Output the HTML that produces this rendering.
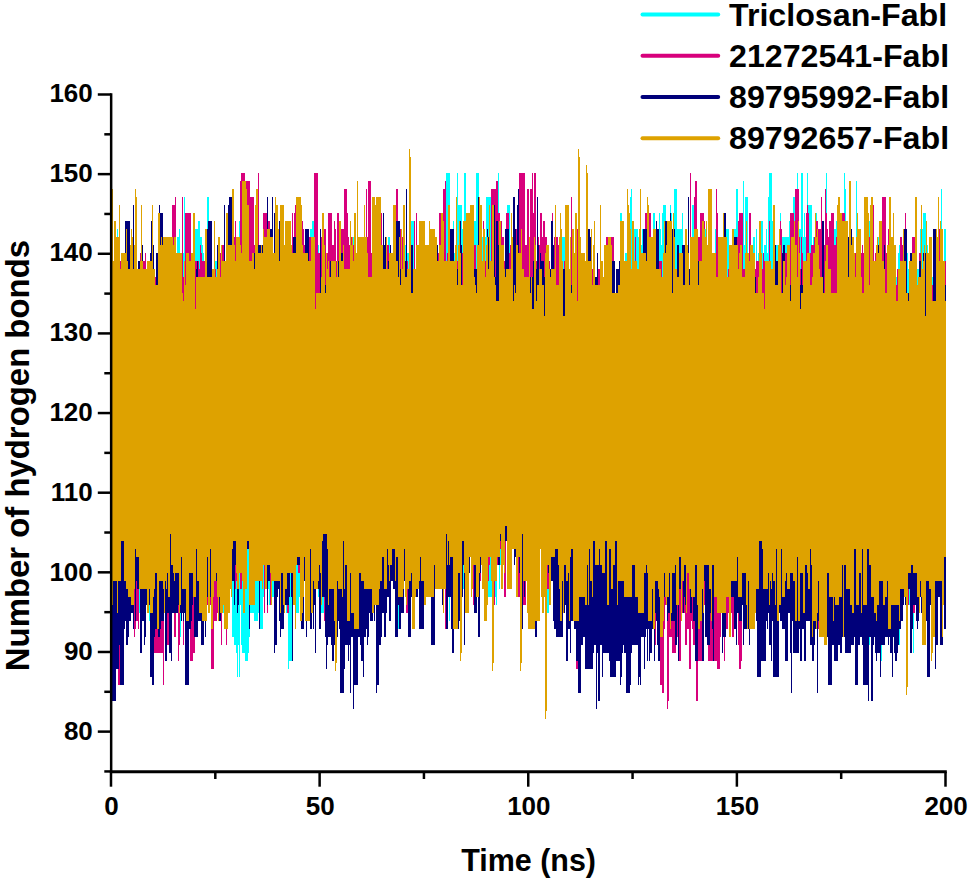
<!DOCTYPE html>
<html><head><meta charset="utf-8"><style>
html,body{margin:0;padding:0;background:#fff;}
body{width:968px;height:882px;overflow:hidden;position:relative;}
svg{position:absolute;left:0;top:0;display:block;}
text{font-family:"Liberation Sans",sans-serif;font-weight:bold;fill:#000;}
</style></head><body>
<svg width="968" height="882" viewBox="0 0 968 882">
<g fill="none" stroke-width="1" shape-rendering="crispEdges">
<path stroke="#00ffff" d="M111.5 269V581M112.5 269V581M113.5 301V581M114.5 301V581M115.5 301V581M116.5 301V581M117.5 229V573M118.5 293V581M119.5 293V581M120.5 293V581M121.5 261V581M122.5 301V581M123.5 253V581M124.5 253V573M125.5 293V557M126.5 293V557M127.5 293V581M128.5 293V581M129.5 293V573M130.5 293V573M131.5 293V573M132.5 293V534M133.5 309V534M134.5 309V589M135.5 293V581M136.5 277V549M137.5 277V573M138.5 293V526M139.5 309V613M140.5 293V605M141.5 293V597M142.5 309V557M143.5 316V557M144.5 316V597M145.5 261V565M146.5 301V565M147.5 301V573M148.5 301V573M149.5 301V621M150.5 301V549M151.5 301V581M152.5 301V637M153.5 301V637M154.5 332V621M155.5 332V621M156.5 301V621M157.5 301V597M158.5 237V597M159.5 229V565M160.5 229V565M161.5 324V605M162.5 316V573M163.5 269V573M164.5 269V573M165.5 261V573M166.5 301V573M167.5 301V573M168.5 293V573M169.5 293V573M170.5 301V581M171.5 277V557M172.5 229V557M173.5 285V597M174.5 293V597M175.5 269V597M176.5 269V581M177.5 237V613M178.5 237V613M179.5 229V613M180.5 261V637M181.5 261V597M182.5 261V573M183.5 253V573M184.5 197V541M185.5 253V565M186.5 245V565M187.5 253V573M188.5 253V565M189.5 245V565M190.5 269V573M191.5 269V565M192.5 261V557M193.5 229V557M194.5 229V557M195.5 229V557M196.5 229V541M197.5 229V589M198.5 221V589M199.5 221V589M200.5 237V589M201.5 237V589M202.5 245V589M203.5 253V581M204.5 293V557M205.5 285V589M206.5 285V589M207.5 197V534M208.5 197V526M209.5 285V526M210.5 253V526M211.5 253V526M212.5 285V557M213.5 285V589M214.5 261V589M215.5 261V589M216.5 261V518M217.5 261V526M218.5 285V549M219.5 285V549M220.5 285V557M221.5 285V549M222.5 301V557M223.5 301V613M224.5 301V581M225.5 301V589M226.5 277V565M227.5 277V581M228.5 269V573M229.5 293V589M230.5 293V581M231.5 309V597M232.5 309V637M233.5 269V637M234.5 245V645M235.5 253V645M236.5 253V653M237.5 253V677M238.5 309V645M239.5 221V677M240.5 285V605M241.5 285V645M242.5 301V653M243.5 301V653M244.5 301V653M245.5 301V661M246.5 293V661M247.5 293V661M248.5 293V653M249.5 293V637M250.5 293V613M251.5 301V613M252.5 301V613M253.5 301V613M254.5 301V621M255.5 301V621M256.5 285V621M257.5 277V621M258.5 277V613M259.5 277V613M260.5 277V629M261.5 277V629M262.5 285V629M263.5 285V597M264.5 285V597M265.5 277V589M266.5 277V589M267.5 285V589M268.5 301V589M269.5 301V605M270.5 269V605M271.5 269V605M272.5 269V597M273.5 309V597M274.5 301V597M275.5 301V597M276.5 253V621M277.5 253V589M278.5 253V589M279.5 253V589M280.5 253V589M281.5 277V589M282.5 277V573M283.5 269V589M284.5 285V589M285.5 309V581M286.5 309V613M287.5 309V613M288.5 301V669M289.5 285V661M290.5 285V661M291.5 285V661M292.5 301V661M293.5 301V581M294.5 293V581M295.5 285V613M296.5 261V613M297.5 301V613M298.5 301V613M299.5 253V597M300.5 253V597M301.5 293V565M302.5 293V565M303.5 261V565M304.5 253V581M305.5 253V589M306.5 229V589M307.5 229V589M308.5 253V589M309.5 253V589M310.5 229V573M311.5 229V573M312.5 221V581M313.5 221V581M314.5 221V581M315.5 301V573M316.5 293V573M317.5 245V573M318.5 245V597M319.5 301V621M320.5 269V621M321.5 269V613M322.5 261V613M323.5 261V613M324.5 261V581M325.5 261V581M326.5 285V597M327.5 277V597M328.5 277V605M329.5 237V605M330.5 245V581M331.5 237V581M332.5 269V573M333.5 269V573M334.5 261V573M335.5 269V565M336.5 269V565M337.5 269V629M338.5 269V573M339.5 269V565M340.5 277V565M341.5 245V557M342.5 285V549M343.5 261V653M344.5 269V653M345.5 269V549M346.5 269V557M347.5 269V549M348.5 293V597M349.5 245V549M350.5 245V549M351.5 277V549M352.5 237V541M353.5 237V541M354.5 309V518M355.5 309V518M356.5 309V518M357.5 301V510M358.5 237V510M359.5 316V510M360.5 316V510M361.5 316V510M362.5 253V510M363.5 293V526M364.5 293V605M365.5 301V518M366.5 301V589M367.5 277V589M368.5 324V589M369.5 316V518M370.5 316V518M371.5 316V518M372.5 324V518M373.5 293V518M374.5 293V518M375.5 293V518M376.5 293V534M377.5 229V534M378.5 229V541M379.5 301V549M380.5 301V541M381.5 277V518M382.5 277V526M383.5 277V526M384.5 277V526M385.5 285V557M386.5 285V534M387.5 293V557M388.5 237V557M389.5 237V621M390.5 285V526M391.5 285V526M392.5 285V526M393.5 285V526M394.5 301V526M395.5 309V526M396.5 309V629M397.5 245V629M398.5 245V629M399.5 245V526M400.5 245V526M401.5 245V526M402.5 245V541M403.5 245V541M404.5 245V541M405.5 245V541M406.5 253V541M407.5 253V541M408.5 253V541M409.5 269V573M410.5 285V573M411.5 221V534M412.5 221V549M413.5 221V549M414.5 277V541M415.5 293V541M416.5 261V541M417.5 261V541M418.5 253V565M419.5 285V565M420.5 277V565M421.5 277V565M422.5 285V549M423.5 285V549M424.5 285V581M425.5 277V573M426.5 301V597M427.5 301V534M428.5 301V534M429.5 285V526M430.5 285V526M431.5 285V534M432.5 285V526M433.5 285V526M434.5 269V526M435.5 269V526M436.5 269V541M437.5 261V541M438.5 261V573M439.5 261V565M440.5 261V526M441.5 245V526M442.5 245V526M443.5 269V557M444.5 269V557M445.5 261V557M446.5 173V557M447.5 173V557M448.5 173V534M449.5 173V621M450.5 237V549M451.5 237V549M452.5 237V565M453.5 221V518M454.5 253V518M455.5 245V518M456.5 245V518M457.5 173V518M458.5 205V549M459.5 205V526M460.5 205V541M461.5 205V589M462.5 229V589M463.5 245V589M464.5 173V589M465.5 173V526M466.5 237V526M467.5 237V549M468.5 229V541M469.5 229V541M470.5 213V541M471.5 213V541M472.5 221V573M473.5 221V549M474.5 221V534M475.5 221V526M476.5 173V565M477.5 173V541M478.5 173V541M479.5 213V541M480.5 205V541M481.5 245V557M482.5 237V534M483.5 237V541M484.5 237V541M485.5 237V541M486.5 197V573M487.5 197V573M488.5 197V597M489.5 197V597M490.5 197V597M491.5 197V597M492.5 245V597M493.5 253V597M494.5 237V597M495.5 245V597M496.5 245V605M497.5 245V557M498.5 173V549M499.5 245V589M500.5 229V565M501.5 253V565M502.5 253V541M503.5 253V541M504.5 261V541M505.5 261V541M506.5 261V541M507.5 205V534M508.5 205V534M509.5 205V534M510.5 253V534M511.5 253V534M512.5 245V534M513.5 253V534M514.5 269V526M515.5 269V526M516.5 253V526M517.5 261V526M518.5 261V518M519.5 261V573M520.5 221V541M521.5 229V526M522.5 277V526M523.5 285V526M524.5 285V526M525.5 285V541M526.5 285V541M527.5 261V613M528.5 261V526M529.5 261V526M530.5 245V526M531.5 245V526M532.5 245V605M533.5 309V526M534.5 309V526M535.5 261V526M536.5 316V534M537.5 324V605M538.5 277V605M539.5 309V541M540.5 324V541M541.5 324V541M542.5 324V549M543.5 309V549M544.5 309V573M545.5 324V613M546.5 324V613M547.5 324V613M548.5 316V613M549.5 316V589M550.5 324V557M551.5 261V557M552.5 253V557M553.5 253V557M554.5 316V557M555.5 309V557M556.5 301V549M557.5 301V549M558.5 293V549M559.5 285V549M560.5 301V613M561.5 245V613M562.5 237V565M563.5 237V565M564.5 237V597M565.5 269V597M566.5 285V526M567.5 285V541M568.5 277V557M569.5 269V541M570.5 269V621M571.5 277V621M572.5 269V621M573.5 253V526M574.5 253V565M575.5 221V565M576.5 221V565M577.5 269V565M578.5 245V581M579.5 253V581M580.5 253V526M581.5 277V526M582.5 285V581M583.5 285V557M584.5 285V557M585.5 285V629M586.5 261V629M587.5 269V597M588.5 293V541M589.5 293V581M590.5 301V581M591.5 293V557M592.5 293V534M593.5 261V534M594.5 261V534M595.5 293V565M596.5 301V565M597.5 301V605M598.5 309V605M599.5 293V518M600.5 293V518M601.5 293V518M602.5 293V526M603.5 293V526M604.5 293V565M605.5 293V581M606.5 316V581M607.5 316V541M608.5 261V541M609.5 309V541M610.5 309V541M611.5 309V549M612.5 293V549M613.5 301V549M614.5 301V541M615.5 301V541M616.5 293V518M617.5 293V526M618.5 293V526M619.5 293V573M620.5 213V573M621.5 213V573M622.5 269V589M623.5 285V565M624.5 277V518M625.5 253V549M626.5 253V557M627.5 245V518M628.5 245V518M629.5 245V518M630.5 197V518M631.5 189V613M632.5 237V541M633.5 237V581M634.5 229V573M635.5 229V565M636.5 229V597M637.5 229V597M638.5 237V541M639.5 245V581M640.5 245V557M641.5 245V526M642.5 229V526M643.5 229V526M644.5 245V534M645.5 237V526M646.5 237V526M647.5 221V526M648.5 221V526M649.5 221V526M650.5 221V526M651.5 237V526M652.5 245V526M653.5 213V526M654.5 213V526M655.5 229V526M656.5 237V573M657.5 229V573M658.5 237V526M659.5 213V589M660.5 229V589M661.5 245V589M662.5 213V597M663.5 205V549M664.5 205V549M665.5 205V549M666.5 221V534M667.5 221V534M668.5 229V534M669.5 229V573M670.5 205V573M671.5 213V541M672.5 253V581M673.5 253V581M674.5 189V534M675.5 189V573M676.5 189V573M677.5 229V573M678.5 229V526M679.5 229V526M680.5 229V526M681.5 229V526M682.5 213V526M683.5 269V581M684.5 269V581M685.5 269V526M686.5 269V526M687.5 277V526M688.5 269V534M689.5 269V534M690.5 261V605M691.5 269V605M692.5 205V605M693.5 205V557M694.5 205V557M695.5 205V573M696.5 205V526M697.5 269V581M698.5 285V534M699.5 245V534M700.5 245V534M701.5 253V613M702.5 253V613M703.5 253V549M704.5 277V549M705.5 229V526M706.5 221V526M707.5 261V526M708.5 261V526M709.5 261V526M710.5 261V534M711.5 269V534M712.5 269V534M713.5 269V549M714.5 269V549M715.5 229V605M716.5 229V597M717.5 229V597M718.5 237V541M719.5 253V526M720.5 261V526M721.5 261V526M722.5 261V526M723.5 253V526M724.5 229V526M725.5 229V526M726.5 229V526M727.5 229V613M728.5 229V557M729.5 245V557M730.5 245V557M731.5 261V526M732.5 261V605M733.5 261V573M734.5 229V581M735.5 229V581M736.5 189V581M737.5 189V581M738.5 237V581M739.5 221V565M740.5 221V541M741.5 221V541M742.5 245V541M743.5 181V541M744.5 245V541M745.5 197V526M746.5 197V526M747.5 197V526M748.5 253V534M749.5 253V573M750.5 221V534M751.5 269V581M752.5 269V589M753.5 237V589M754.5 237V589M755.5 269V589M756.5 229V589M757.5 261V589M758.5 253V589M759.5 261V605M760.5 237V613M761.5 221V526M762.5 221V613M763.5 261V613M764.5 245V613M765.5 245V613M766.5 229V613M767.5 253V557M768.5 197V557M769.5 173V557M770.5 173V557M771.5 173V534M772.5 221V557M773.5 229V557M774.5 221V534M775.5 245V526M776.5 245V526M777.5 245V605M778.5 245V573M779.5 237V534M780.5 213V534M781.5 229V534M782.5 237V541M783.5 237V541M784.5 237V581M785.5 237V541M786.5 237V541M787.5 237V541M788.5 237V541M789.5 221V565M790.5 221V597M791.5 229V597M792.5 229V589M793.5 197V549M794.5 197V534M795.5 245V534M796.5 245V534M797.5 173V541M798.5 229V581M799.5 229V581M800.5 229V549M801.5 173V621M802.5 173V621M803.5 237V621M804.5 213V613M805.5 237V581M806.5 237V589M807.5 173V534M808.5 205V621M809.5 205V589M810.5 205V541M811.5 205V541M812.5 245V541M813.5 237V541M814.5 237V541M815.5 237V565M816.5 213V534M817.5 261V534M818.5 245V605M819.5 245V605M820.5 245V605M821.5 245V549M822.5 245V581M823.5 261V581M824.5 261V581M825.5 221V581M826.5 173V534M827.5 261V534M828.5 261V645M829.5 261V645M830.5 253V645M831.5 253V597M832.5 253V557M833.5 229V534M834.5 229V613M835.5 229V613M836.5 221V613M837.5 221V549M838.5 221V549M839.5 221V534M840.5 237V534M841.5 237V534M842.5 245V534M843.5 261V534M844.5 173V534M845.5 189V534M846.5 245V534M847.5 237V534M848.5 245V534M849.5 245V557M850.5 253V557M851.5 253V557M852.5 261V549M853.5 269V549M854.5 269V549M855.5 269V541M856.5 181V621M857.5 261V629M858.5 229V549M859.5 261V549M860.5 261V549M861.5 269V549M862.5 269V621M863.5 253V621M864.5 253V573M865.5 213V565M866.5 269V573M867.5 269V573M868.5 221V645M869.5 221V645M870.5 221V565M871.5 221V605M872.5 301V557M873.5 261V549M874.5 261V613M875.5 261V597M876.5 261V597M877.5 261V597M878.5 237V605M879.5 229V653M880.5 229V653M881.5 229V661M882.5 253V573M883.5 293V573M884.5 301V573M885.5 301V597M886.5 285V597M887.5 285V589M888.5 285V589M889.5 285V557M890.5 277V581M891.5 277V557M892.5 277V557M893.5 277V589M894.5 277V589M895.5 277V589M896.5 277V565M897.5 277V565M898.5 253V565M899.5 245V645M900.5 245V573M901.5 261V581M902.5 261V597M903.5 261V597M904.5 253V565M905.5 253V573M906.5 253V573M907.5 253V573M908.5 269V605M909.5 269V605M910.5 269V597M911.5 269V573M912.5 269V573M913.5 269V653M914.5 261V573M915.5 269V573M916.5 269V573M917.5 269V565M918.5 269V597M919.5 253V565M920.5 229V565M921.5 245V565M922.5 229V565M923.5 213V565M924.5 213V557M925.5 213V621M926.5 245V621M927.5 245V589M928.5 277V557M929.5 261V557M930.5 277V557M931.5 277V557M932.5 277V653M933.5 253V557M934.5 285V573M935.5 261V573M936.5 261V573M937.5 253V581M938.5 237V581M939.5 261V581M940.5 261V581M941.5 189V581M942.5 269V549M943.5 269V573M944.5 229V549M945.5 229V565"/>
<path stroke="#d8007c" d="M111.5 301V677M112.5 277V677M113.5 309V685M114.5 285V685M115.5 309V653M116.5 293V653M117.5 293V669M118.5 293V685M119.5 316V685M120.5 261V685M121.5 261V677M122.5 261V685M123.5 261V677M124.5 316V605M125.5 301V597M126.5 309V589M127.5 324V581M128.5 316V605M129.5 316V597M130.5 316V589M131.5 309V589M132.5 324V581M133.5 293V565M134.5 277V637M135.5 277V629M136.5 316V621M137.5 316V621M138.5 316V629M139.5 285V565M140.5 253V565M141.5 316V581M142.5 261V589M143.5 261V589M144.5 261V645M145.5 253V549M146.5 309V549M147.5 301V557M148.5 324V573M149.5 324V581M150.5 324V565M151.5 324V661M152.5 277V661M153.5 277V661M154.5 277V653M155.5 277V653M156.5 285V653M157.5 293V653M158.5 309V653M159.5 309V653M160.5 301V653M161.5 301V653M162.5 301V653M163.5 309V685M164.5 316V613M165.5 309V637M166.5 316V645M167.5 316V645M168.5 293V645M169.5 285V645M170.5 285V597M171.5 301V613M172.5 205V613M173.5 205V613M174.5 205V637M175.5 197V637M176.5 285V605M177.5 285V613M178.5 285V661M179.5 285V645M180.5 277V613M181.5 277V613M182.5 197V613M183.5 277V645M184.5 277V613M185.5 213V613M186.5 213V621M187.5 213V621M188.5 213V621M189.5 213V629M190.5 213V661M191.5 261V661M192.5 285V661M193.5 277V653M194.5 261V653M195.5 261V613M196.5 261V613M197.5 261V613M198.5 261V613M199.5 269V605M200.5 245V613M201.5 253V621M202.5 261V605M203.5 261V605M204.5 261V605M205.5 293V605M206.5 293V605M207.5 245V605M208.5 245V605M209.5 309V605M210.5 301V605M211.5 285V669M212.5 285V669M213.5 285V669M214.5 285V621M215.5 269V621M216.5 277V621M217.5 277V613M218.5 301V613M219.5 253V605M220.5 253V605M221.5 245V645M222.5 245V581M223.5 245V581M224.5 301V629M225.5 301V613M226.5 301V645M227.5 285V613M228.5 285V565M229.5 293V589M230.5 285V589M231.5 285V549M232.5 277V557M233.5 277V541M234.5 237V541M235.5 221V589M236.5 269V581M237.5 245V534M238.5 245V565M239.5 245V541M240.5 181V589M241.5 173V589M242.5 173V557M243.5 173V557M244.5 173V557M245.5 221V573M246.5 181V541M247.5 181V518M248.5 181V518M249.5 181V518M250.5 197V518M251.5 197V541M252.5 197V541M253.5 197V541M254.5 245V549M255.5 245V541M256.5 253V534M257.5 229V549M258.5 173V549M259.5 261V549M260.5 269V549M261.5 277V549M262.5 277V510M263.5 213V549M264.5 213V613M265.5 213V518M266.5 213V518M267.5 213V613M268.5 221V565M269.5 221V565M270.5 285V605M271.5 269V605M272.5 269V581M273.5 253V581M274.5 253V510M275.5 253V510M276.5 293V589M277.5 285V541M278.5 285V518M279.5 277V557M280.5 293V565M281.5 293V565M282.5 293V549M283.5 269V557M284.5 269V557M285.5 269V557M286.5 269V518M287.5 285V613M288.5 285V613M289.5 285V541M290.5 245V541M291.5 253V581M292.5 213V581M293.5 261V518M294.5 213V518M295.5 205V518M296.5 205V518M297.5 205V565M298.5 205V573M299.5 221V573M300.5 213V534M301.5 229V573M302.5 221V573M303.5 229V573M304.5 245V573M305.5 245V534M306.5 237V534M307.5 237V534M308.5 237V534M309.5 237V534M310.5 237V526M311.5 237V518M312.5 237V518M313.5 237V518M314.5 173V518M315.5 173V518M316.5 173V518M317.5 173V549M318.5 253V581M319.5 253V581M320.5 237V581M321.5 237V581M322.5 237V565M323.5 237V565M324.5 229V621M325.5 229V534M326.5 253V534M327.5 253V557M328.5 213V557M329.5 213V549M330.5 213V518M331.5 213V541M332.5 245V541M333.5 245V573M334.5 221V549M335.5 229V518M336.5 261V518M337.5 213V518M338.5 213V518M339.5 221V526M340.5 261V518M341.5 229V518M342.5 229V541M343.5 229V541M344.5 189V541M345.5 189V510M346.5 189V510M347.5 213V510M348.5 237V518M349.5 245V518M350.5 237V549M351.5 237V549M352.5 237V549M353.5 245V510M354.5 237V557M355.5 237V518M356.5 253V510M357.5 261V510M358.5 261V526M359.5 261V526M360.5 261V526M361.5 245V534M362.5 245V597M363.5 245V597M364.5 245V597M365.5 253V597M366.5 189V549M367.5 237V549M368.5 181V549M369.5 181V518M370.5 181V534M371.5 253V534M372.5 237V534M373.5 237V541M374.5 237V541M375.5 245V565M376.5 245V565M377.5 245V565M378.5 269V534M379.5 269V541M380.5 253V541M381.5 213V534M382.5 269V534M383.5 269V557M384.5 269V541M385.5 253V557M386.5 245V557M387.5 245V557M388.5 245V565M389.5 261V549M390.5 261V621M391.5 261V549M392.5 261V549M393.5 261V565M394.5 261V565M395.5 261V565M396.5 189V565M397.5 189V565M398.5 253V573M399.5 253V573M400.5 229V573M401.5 229V573M402.5 237V573M403.5 253V573M404.5 261V557M405.5 261V565M406.5 229V613M407.5 261V613M408.5 269V613M409.5 237V541M410.5 237V541M411.5 269V589M412.5 269V589M413.5 269V541M414.5 221V541M415.5 285V541M416.5 213V541M417.5 293V581M418.5 293V581M419.5 293V581M420.5 293V581M421.5 293V581M422.5 285V581M423.5 285V541M424.5 277V557M425.5 277V557M426.5 301V557M427.5 293V541M428.5 253V541M429.5 253V549M430.5 285V597M431.5 293V597M432.5 245V557M433.5 245V541M434.5 269V541M435.5 269V541M436.5 269V589M437.5 253V534M438.5 253V534M439.5 213V526M440.5 213V549M441.5 269V549M442.5 253V549M443.5 189V557M444.5 189V549M445.5 181V629M446.5 285V526M447.5 253V534M448.5 277V534M449.5 245V534M450.5 277V526M451.5 269V526M452.5 269V526M453.5 261V573M454.5 261V526M455.5 261V518M456.5 261V534M457.5 261V534M458.5 269V526M459.5 229V526M460.5 253V526M461.5 253V549M462.5 253V510M463.5 261V565M464.5 261V565M465.5 261V549M466.5 269V526M467.5 213V526M468.5 213V526M469.5 277V549M470.5 213V549M471.5 237V534M472.5 261V549M473.5 245V605M474.5 245V541M475.5 245V581M476.5 269V581M477.5 269V581M478.5 205V581M479.5 205V581M480.5 269V581M481.5 269V557M482.5 261V557M483.5 221V557M484.5 261V557M485.5 261V518M486.5 245V518M487.5 245V581M488.5 261V581M489.5 261V565M490.5 261V518M491.5 189V549M492.5 189V549M493.5 189V549M494.5 189V605M495.5 189V573M496.5 181V565M497.5 181V565M498.5 213V526M499.5 213V534M500.5 221V549M501.5 221V549M502.5 237V518M503.5 237V510M504.5 261V597M505.5 261V597M506.5 213V526M507.5 213V526M508.5 213V510M509.5 253V510M510.5 245V510M511.5 245V510M512.5 253V518M513.5 253V518M514.5 261V518M515.5 261V518M516.5 229V518M517.5 229V597M518.5 253V597M519.5 173V597M520.5 173V597M521.5 173V605M522.5 173V605M523.5 173V605M524.5 173V605M525.5 245V605M526.5 245V541M527.5 189V526M528.5 189V526M529.5 253V518M530.5 189V518M531.5 189V581M532.5 173V581M533.5 213V581M534.5 173V534M535.5 173V534M536.5 261V534M537.5 237V518M538.5 237V557M539.5 245V549M540.5 213V534M541.5 213V534M542.5 237V534M543.5 221V534M544.5 221V549M545.5 237V534M546.5 237V526M547.5 261V589M548.5 261V589M549.5 261V605M550.5 269V605M551.5 277V549M552.5 213V557M553.5 269V557M554.5 237V597M555.5 237V549M556.5 237V581M557.5 237V581M558.5 245V613M559.5 253V621M560.5 253V621M561.5 277V621M562.5 277V565M563.5 293V573M564.5 261V573M565.5 261V573M566.5 229V557M567.5 293V557M568.5 301V557M569.5 301V565M570.5 301V573M571.5 197V589M572.5 277V565M573.5 269V565M574.5 269V565M575.5 269V613M576.5 237V669M577.5 229V669M578.5 277V669M579.5 277V661M580.5 277V613M581.5 277V613M582.5 261V605M583.5 261V605M584.5 261V605M585.5 309V573M586.5 309V621M587.5 293V621M588.5 293V613M589.5 316V549M590.5 269V637M591.5 269V541M592.5 269V541M593.5 269V541M594.5 277V557M595.5 277V534M596.5 277V573M597.5 277V573M598.5 269V549M599.5 269V581M600.5 316V581M601.5 301V541M602.5 316V541M603.5 301V541M604.5 301V541M605.5 277V541M606.5 237V534M607.5 237V534M608.5 237V518M609.5 237V518M610.5 237V541M611.5 237V518M612.5 237V613M613.5 237V613M614.5 301V613M615.5 309V613M616.5 309V613M617.5 301V518M618.5 301V565M619.5 301V518M620.5 301V518M621.5 301V526M622.5 285V534M623.5 285V534M624.5 285V573M625.5 285V541M626.5 285V541M627.5 285V541M628.5 285V549M629.5 269V518M630.5 324V573M631.5 324V573M632.5 324V573M633.5 309V534M634.5 309V534M635.5 237V534M636.5 301V534M637.5 301V534M638.5 301V605M639.5 261V589M640.5 261V557M641.5 316V589M642.5 316V589M643.5 316V589M644.5 316V541M645.5 213V565M646.5 213V565M647.5 213V581M648.5 213V565M649.5 213V565M650.5 213V581M651.5 253V565M652.5 253V589M653.5 316V589M654.5 301V637M655.5 301V645M656.5 221V621M657.5 277V621M658.5 309V613M659.5 261V597M660.5 261V685M661.5 261V685M662.5 277V693M663.5 324V693M664.5 324V629M665.5 324V605M666.5 221V605M667.5 253V709M668.5 253V701M669.5 293V637M670.5 293V637M671.5 285V637M672.5 285V653M673.5 285V653M674.5 285V653M675.5 277V653M676.5 293V645M677.5 285V637M678.5 293V637M679.5 301V661M680.5 293V661M681.5 293V613M682.5 261V613M683.5 277V613M684.5 277V613M685.5 285V645M686.5 285V645M687.5 277V629M688.5 269V629M689.5 269V669M690.5 173V669M691.5 261V621M692.5 261V629M693.5 261V645M694.5 197V645M695.5 181V645M696.5 181V701M697.5 237V701M698.5 237V661M699.5 237V661M700.5 213V661M701.5 213V661M702.5 213V637M703.5 213V653M704.5 221V605M705.5 269V605M706.5 269V613M707.5 269V613M708.5 269V661M709.5 269V661M710.5 269V661M711.5 261V661M712.5 261V661M713.5 253V661M714.5 277V661M715.5 277V661M716.5 189V661M717.5 213V669M718.5 261V669M719.5 261V669M720.5 261V637M721.5 261V613M722.5 285V613M723.5 285V613M724.5 261V661M725.5 261V621M726.5 261V629M727.5 285V629M728.5 269V613M729.5 261V629M730.5 261V597M731.5 261V613M732.5 261V637M733.5 261V637M734.5 277V605M735.5 277V605M736.5 277V597M737.5 237V597M738.5 221V645M739.5 213V669M740.5 213V669M741.5 213V661M742.5 213V581M743.5 269V581M744.5 269V581M745.5 269V573M746.5 253V573M747.5 269V557M748.5 253V581M749.5 213V581M750.5 213V581M751.5 269V573M752.5 269V597M753.5 269V597M754.5 269V597M755.5 269V589M756.5 261V565M757.5 261V565M758.5 261V565M759.5 269V541M760.5 269V541M761.5 269V541M762.5 269V573M763.5 253V573M764.5 261V557M765.5 269V557M766.5 285V557M767.5 285V557M768.5 285V557M769.5 221V541M770.5 269V534M771.5 269V534M772.5 269V534M773.5 261V565M774.5 277V565M775.5 277V557M776.5 277V557M777.5 277V605M778.5 277V605M779.5 277V541M780.5 221V541M781.5 229V557M782.5 261V573M783.5 245V541M784.5 253V541M785.5 253V541M786.5 253V541M787.5 277V541M788.5 277V549M789.5 269V549M790.5 213V549M791.5 213V573M792.5 213V573M793.5 213V621M794.5 237V573M795.5 189V526M796.5 189V526M797.5 189V534M798.5 189V534M799.5 237V534M800.5 269V557M801.5 237V557M802.5 253V557M803.5 269V557M804.5 269V557M805.5 269V589M806.5 213V589M807.5 205V589M808.5 213V565M809.5 261V581M810.5 253V581M811.5 245V541M812.5 245V637M813.5 245V549M814.5 237V534M815.5 221V565M816.5 221V565M817.5 221V565M818.5 229V629M819.5 229V629M820.5 229V629M821.5 197V541M822.5 245V581M823.5 245V581M824.5 245V581M825.5 189V573M826.5 213V573M827.5 229V573M828.5 237V573M829.5 221V621M830.5 221V573M831.5 213V597M832.5 213V573M833.5 213V573M834.5 245V573M835.5 245V573M836.5 237V573M837.5 237V541M838.5 245V541M839.5 245V534M840.5 245V565M841.5 245V557M842.5 213V557M843.5 213V565M844.5 213V565M845.5 253V605M846.5 245V605M847.5 245V605M848.5 253V534M849.5 253V557M850.5 253V557M851.5 245V605M852.5 245V534M853.5 245V534M854.5 253V534M855.5 253V534M856.5 253V534M857.5 229V534M858.5 229V534M859.5 229V526M860.5 229V526M861.5 253V526M862.5 245V581M863.5 253V573M864.5 253V573M865.5 253V573M866.5 253V573M867.5 229V534M868.5 229V605M869.5 237V541M870.5 261V549M871.5 237V573M872.5 253V589M873.5 205V589M874.5 269V589M875.5 253V534M876.5 253V534M877.5 261V565M878.5 261V565M879.5 261V557M880.5 261V613M881.5 261V613M882.5 197V613M883.5 197V613M884.5 197V613M885.5 197V541M886.5 253V541M887.5 253V613M888.5 229V534M889.5 229V534M890.5 253V534M891.5 253V581M892.5 253V621M893.5 285V621M894.5 285V581M895.5 285V581M896.5 285V581M897.5 269V581M898.5 269V589M899.5 293V613M900.5 237V613M901.5 237V613M902.5 245V613M903.5 245V597M904.5 245V597M905.5 213V597M906.5 293V534M907.5 293V541M908.5 293V605M909.5 261V573M910.5 261V557M911.5 253V557M912.5 237V613M913.5 237V613M914.5 237V613M915.5 237V581M916.5 285V581M917.5 285V534M918.5 293V534M919.5 253V534M920.5 253V534M921.5 253V534M922.5 269V565M923.5 269V565M924.5 269V549M925.5 269V549M926.5 269V534M927.5 269V549M928.5 269V549M929.5 253V549M930.5 253V549M931.5 253V621M932.5 285V621M933.5 261V621M934.5 261V557M935.5 261V557M936.5 261V557M937.5 261V557M938.5 229V557M939.5 229V557M940.5 229V557M941.5 229V557M942.5 261V549M943.5 261V541M944.5 261V557M945.5 261V557"/>
<path stroke="#00007a" d="M111.5 285V661M112.5 285V701M113.5 277V701M114.5 285V701M115.5 285V701M116.5 301V669M117.5 301V669M118.5 301V669M119.5 277V645M120.5 277V685M121.5 277V685M122.5 301V685M123.5 301V685M124.5 261V629M125.5 221V621M126.5 221V645M127.5 221V645M128.5 221V637M129.5 221V621M130.5 277V621M131.5 277V613M132.5 277V613M133.5 205V629M134.5 277V589M135.5 277V621M136.5 277V581M137.5 293V589M138.5 261V589M139.5 261V589M140.5 293V653M141.5 293V653M142.5 245V621M143.5 293V621M144.5 293V645M145.5 293V637M146.5 293V605M147.5 261V605M148.5 261V605M149.5 261V605M150.5 253V677M151.5 221V677M152.5 253V685M153.5 245V685M154.5 285V637M155.5 285V629M156.5 253V629M157.5 253V629M158.5 261V637M159.5 205V637M160.5 213V629M161.5 213V621M162.5 213V621M163.5 285V621M164.5 285V613M165.5 285V661M166.5 261V661M167.5 261V613M168.5 269V613M169.5 269V653M170.5 269V653M171.5 293V661M172.5 293V613M173.5 309V613M174.5 309V613M175.5 285V613M176.5 285V613M177.5 293V613M178.5 293V605M179.5 301V605M180.5 301V613M181.5 324V621M182.5 309V613M183.5 301V621M184.5 301V613M185.5 309V685M186.5 340V685M187.5 332V685M188.5 332V685M189.5 332V629M190.5 332V629M191.5 332V621M192.5 293V605M193.5 293V597M194.5 324V637M195.5 324V637M196.5 269V637M197.5 261V637M198.5 293V621M199.5 293V621M200.5 293V621M201.5 277V645M202.5 277V645M203.5 277V645M204.5 301V613M205.5 229V637M206.5 229V597M207.5 229V597M208.5 221V597M209.5 221V581M210.5 221V597M211.5 221V597M212.5 293V589M213.5 285V589M214.5 301V581M215.5 301V581M216.5 301V581M217.5 245V581M218.5 285V621M219.5 285V621M220.5 285V621M221.5 285V605M222.5 277V597M223.5 277V581M224.5 205V605M225.5 293V581M226.5 293V581M227.5 285V581M228.5 205V589M229.5 197V589M230.5 197V589M231.5 197V581M232.5 197V581M233.5 197V581M234.5 285V605M235.5 285V565M236.5 261V557M237.5 253V613M238.5 253V605M239.5 253V557M240.5 253V557M241.5 253V565M242.5 261V557M243.5 261V605M244.5 261V549M245.5 261V541M246.5 189V549M247.5 269V549M248.5 269V549M249.5 269V629M250.5 269V589M251.5 269V549M252.5 269V573M253.5 269V557M254.5 253V557M255.5 253V565M256.5 253V565M257.5 245V573M258.5 245V573M259.5 245V629M260.5 245V557M261.5 245V557M262.5 245V557M263.5 253V557M264.5 237V557M265.5 253V565M266.5 253V565M267.5 197V605M268.5 261V581M269.5 245V581M270.5 229V573M271.5 229V573M272.5 197V573M273.5 261V581M274.5 213V653M275.5 245V645M276.5 277V645M277.5 277V597M278.5 277V589M279.5 221V621M280.5 277V637M281.5 277V629M282.5 277V629M283.5 269V629M284.5 269V605M285.5 269V605M286.5 245V605M287.5 277V605M288.5 277V605M289.5 277V597M290.5 285V573M291.5 253V597M292.5 253V661M293.5 237V573M294.5 237V565M295.5 237V573M296.5 237V565M297.5 293V565M298.5 293V565M299.5 293V565M300.5 269V589M301.5 269V629M302.5 285V629M303.5 285V629M304.5 293V581M305.5 229V573M306.5 229V637M307.5 229V597M308.5 229V597M309.5 301V621M310.5 301V629M311.5 309V629M312.5 301V597M313.5 285V629M314.5 309V605M315.5 309V653M316.5 309V589M317.5 316V589M318.5 324V589M319.5 324V629M320.5 229V629M321.5 277V597M322.5 316V597M323.5 324V597M324.5 324V597M325.5 285V637M326.5 285V669M327.5 285V645M328.5 285V637M329.5 285V637M330.5 261V637M331.5 261V645M332.5 261V661M333.5 261V661M334.5 261V645M335.5 324V645M336.5 324V621M337.5 261V637M338.5 261V621M339.5 261V629M340.5 253V693M341.5 253V693M342.5 253V693M343.5 253V693M344.5 269V669M345.5 269V645M346.5 316V645M347.5 316V645M348.5 316V661M349.5 285V645M350.5 285V693M351.5 285V637M352.5 285V637M353.5 285V709M354.5 285V685M355.5 285V685M356.5 277V685M357.5 316V685M358.5 316V637M359.5 316V637M360.5 277V645M361.5 277V661M362.5 293V661M363.5 293V677M364.5 253V637M365.5 253V637M366.5 277V629M367.5 277V645M368.5 277V637M369.5 277V613M370.5 293V621M371.5 301V621M372.5 301V621M373.5 285V613M374.5 285V621M375.5 285V605M376.5 285V693M377.5 285V685M378.5 269V685M379.5 277V645M380.5 277V645M381.5 277V637M382.5 301V613M383.5 213V613M384.5 245V637M385.5 237V637M386.5 237V613M387.5 269V597M388.5 261V597M389.5 253V621M390.5 245V621M391.5 261V581M392.5 261V581M393.5 269V589M394.5 269V589M395.5 221V637M396.5 221V637M397.5 221V637M398.5 221V605M399.5 221V629M400.5 269V629M401.5 277V613M402.5 277V613M403.5 269V613M404.5 269V581M405.5 261V581M406.5 189V589M407.5 285V589M408.5 285V637M409.5 261V637M410.5 261V637M411.5 245V597M412.5 245V629M413.5 301V597M414.5 301V597M415.5 301V597M416.5 301V597M417.5 285V597M418.5 285V573M419.5 285V629M420.5 309V629M421.5 301V629M422.5 301V629M423.5 309V629M424.5 309V589M425.5 309V589M426.5 309V589M427.5 277V573M428.5 277V573M429.5 301V565M430.5 245V565M431.5 245V645M432.5 245V645M433.5 245V645M434.5 245V645M435.5 245V589M436.5 245V581M437.5 245V565M438.5 285V565M439.5 293V581M440.5 293V581M441.5 301V581M442.5 293V605M443.5 245V565M444.5 301V581M445.5 301V565M446.5 301V629M447.5 301V629M448.5 301V597M449.5 229V597M450.5 229V597M451.5 229V629M452.5 229V653M453.5 229V653M454.5 277V573M455.5 277V573M456.5 293V573M457.5 269V565M458.5 285V629M459.5 285V621M460.5 221V565M461.5 245V557M462.5 293V597M463.5 277V565M464.5 277V645M465.5 277V605M466.5 213V549M467.5 285V549M468.5 285V549M469.5 285V573M470.5 261V557M471.5 229V597M472.5 285V565M473.5 269V565M474.5 269V613M475.5 269V613M476.5 269V613M477.5 245V589M478.5 197V637M479.5 237V637M480.5 237V573M481.5 269V541M482.5 269V557M483.5 269V534M484.5 277V534M485.5 277V534M486.5 253V534M487.5 229V534M488.5 237V526M489.5 269V526M490.5 269V557M491.5 269V573M492.5 269V541M493.5 269V557M494.5 205V557M495.5 277V557M496.5 221V557M497.5 221V557M498.5 245V565M499.5 245V565M500.5 245V541M501.5 245V549M502.5 277V549M503.5 277V557M504.5 277V541M505.5 229V541M506.5 229V541M507.5 229V541M508.5 229V541M509.5 285V541M510.5 285V549M511.5 253V549M512.5 253V549M513.5 197V549M514.5 197V565M515.5 229V557M516.5 277V557M517.5 205V557M518.5 189V557M519.5 253V573M520.5 261V549M521.5 285V597M522.5 285V629M523.5 285V573M524.5 285V597M525.5 293V581M526.5 285V581M527.5 293V605M528.5 277V581M529.5 277V581M530.5 277V581M531.5 285V581M532.5 277V581M533.5 261V581M534.5 293V549M535.5 285V637M536.5 269V637M537.5 197V549M538.5 245V597M539.5 293V605M540.5 253V549M541.5 261V565M542.5 261V565M543.5 261V573M544.5 277V573M545.5 293V573M546.5 293V605M547.5 293V557M548.5 293V573M549.5 293V573M550.5 269V581M551.5 221V581M552.5 221V581M553.5 245V621M554.5 285V629M555.5 285V629M556.5 285V637M557.5 293V637M558.5 293V637M559.5 293V637M560.5 269V637M561.5 269V637M562.5 269V637M563.5 269V613M564.5 269V613M565.5 269V605M566.5 269V661M567.5 237V661M568.5 237V629M569.5 309V629M570.5 309V653M571.5 285V621M572.5 285V621M573.5 293V621M574.5 309V629M575.5 301V629M576.5 309V661M577.5 309V661M578.5 316V693M579.5 316V693M580.5 309V693M581.5 309V645M582.5 277V645M583.5 253V637M584.5 253V637M585.5 293V669M586.5 293V669M587.5 229V669M588.5 229V669M589.5 229V669M590.5 237V669M591.5 237V669M592.5 324V669M593.5 293V653M594.5 293V645M595.5 277V645M596.5 277V709M597.5 253V653M598.5 309V701M599.5 309V701M600.5 309V645M601.5 261V645M602.5 324V677M603.5 324V653M604.5 324V653M605.5 277V653M606.5 277V653M607.5 324V653M608.5 316V653M609.5 316V661M610.5 316V677M611.5 261V677M612.5 261V677M613.5 261V677M614.5 261V677M615.5 309V677M616.5 269V661M617.5 269V661M618.5 269V661M619.5 261V661M620.5 261V685M621.5 285V677M622.5 277V653M623.5 277V645M624.5 293V653M625.5 293V653M626.5 309V693M627.5 229V693M628.5 229V693M629.5 277V693M630.5 277V685M631.5 293V653M632.5 293V645M633.5 293V645M634.5 293V645M635.5 293V645M636.5 293V645M637.5 293V645M638.5 293V685M639.5 301V677M640.5 301V685M641.5 301V637M642.5 277V637M643.5 229V637M644.5 229V669M645.5 229V637M646.5 229V629M647.5 285V661M648.5 261V629M649.5 261V661M650.5 261V653M651.5 261V653M652.5 293V629M653.5 253V613M654.5 253V661M655.5 277V613M656.5 221V621M657.5 229V645M658.5 229V661M659.5 285V661M660.5 285V605M661.5 285V605M662.5 285V613M663.5 285V597M664.5 221V597M665.5 221V589M666.5 221V589M667.5 221V621M668.5 301V613M669.5 301V613M670.5 213V613M671.5 229V621M672.5 229V621M673.5 229V621M674.5 229V621M675.5 293V645M676.5 285V645M677.5 245V597M678.5 245V661M679.5 301V589M680.5 301V589M681.5 301V613M682.5 245V581M683.5 245V613M684.5 245V597M685.5 245V605M686.5 269V605M687.5 269V573M688.5 197V573M689.5 269V589M690.5 269V613M691.5 293V613M692.5 293V597M693.5 293V621M694.5 293V621M695.5 293V661M696.5 237V661M697.5 237V661M698.5 261V597M699.5 293V597M700.5 301V581M701.5 261V581M702.5 293V661M703.5 293V661M704.5 301V581M705.5 301V637M706.5 301V637M707.5 301V645M708.5 301V645M709.5 229V645M710.5 285V613M711.5 277V589M712.5 277V629M713.5 309V661M714.5 309V589M715.5 309V589M716.5 309V589M717.5 309V613M718.5 285V613M719.5 301V613M720.5 316V613M721.5 316V613M722.5 316V653M723.5 213V637M724.5 213V637M725.5 213V637M726.5 285V597M727.5 309V597M728.5 309V597M729.5 253V597M730.5 277V597M731.5 277V597M732.5 277V597M733.5 237V597M734.5 237V629M735.5 237V629M736.5 237V645M737.5 301V613M738.5 269V613M739.5 316V621M740.5 316V621M741.5 324V621M742.5 324V605M743.5 324V645M744.5 324V629M745.5 293V629M746.5 301V629M747.5 301V629M748.5 301V629M749.5 316V645M750.5 293V621M751.5 261V621M752.5 332V621M753.5 285V613M754.5 277V613M755.5 277V613M756.5 301V621M757.5 301V677M758.5 293V677M759.5 293V677M760.5 316V677M761.5 316V661M762.5 316V661M763.5 316V661M764.5 332V661M765.5 332V661M766.5 324V621M767.5 324V629M768.5 324V613M769.5 324V645M770.5 261V645M771.5 316V661M772.5 316V621M773.5 277V677M774.5 245V677M775.5 245V677M776.5 261V677M777.5 261V677M778.5 253V677M779.5 253V613M780.5 293V621M781.5 293V621M782.5 253V629M783.5 245V629M784.5 245V629M785.5 316V661M786.5 316V661M787.5 285V661M788.5 285V613M789.5 285V613M790.5 285V653M791.5 277V693M792.5 277V621M793.5 293V653M794.5 293V653M795.5 309V653M796.5 293V653M797.5 324V653M798.5 324V653M799.5 285V629M800.5 285V661M801.5 269V661M802.5 285V629M803.5 324V629M804.5 324V661M805.5 324V661M806.5 316V621M807.5 316V621M808.5 316V621M809.5 316V621M810.5 316V645M811.5 293V645M812.5 293V661M813.5 309V661M814.5 309V645M815.5 301V629M816.5 293V629M817.5 293V693M818.5 293V621M819.5 324V621M820.5 324V621M821.5 285V621M822.5 221V637M823.5 221V637M824.5 309V637M825.5 309V637M826.5 309V637M827.5 309V637M828.5 309V685M829.5 309V685M830.5 309V685M831.5 309V685M832.5 309V645M833.5 309V645M834.5 309V661M835.5 309V661M836.5 309V661M837.5 301V661M838.5 277V645M839.5 277V645M840.5 245V653M841.5 261V653M842.5 261V637M843.5 245V637M844.5 293V637M845.5 245V653M846.5 253V653M847.5 253V653M848.5 237V653M849.5 237V653M850.5 237V653M851.5 229V645M852.5 301V645M853.5 309V645M854.5 301V637M855.5 301V685M856.5 237V685M857.5 237V685M858.5 237V645M859.5 277V645M860.5 285V637M861.5 316V637M862.5 316V645M863.5 324V685M864.5 301V685M865.5 301V685M866.5 324V685M867.5 229V685M868.5 277V701M869.5 324V637M870.5 285V637M871.5 221V701M872.5 221V701M873.5 293V645M874.5 293V637M875.5 332V653M876.5 316V661M877.5 285V653M878.5 245V653M879.5 277V653M880.5 285V677M881.5 332V645M882.5 277V645M883.5 277V645M884.5 245V645M885.5 324V637M886.5 324V637M887.5 324V637M888.5 324V645M889.5 285V637M890.5 309V653M891.5 237V653M892.5 245V677M893.5 277V637M894.5 285V653M895.5 324V661M896.5 324V661M897.5 324V653M898.5 301V645M899.5 301V629M900.5 301V629M901.5 301V621M902.5 293V621M903.5 229V605M904.5 229V597M905.5 229V605M906.5 229V597M907.5 293V661M908.5 293V589M909.5 293V589M910.5 253V653M911.5 253V653M912.5 277V629M913.5 277V605M914.5 277V605M915.5 277V605M916.5 269V621M917.5 309V629M918.5 324V621M919.5 261V589M920.5 261V597M921.5 269V613M922.5 269V613M923.5 253V597M924.5 253V629M925.5 253V621M926.5 253V621M927.5 253V677M928.5 324V677M929.5 316V677M930.5 301V605M931.5 277V613M932.5 324V613M933.5 229V613M934.5 229V613M935.5 229V669M936.5 309V645M937.5 309V645M938.5 285V597M939.5 301V597M940.5 301V645M941.5 253V645M942.5 269V645M943.5 261V605M944.5 309V629M945.5 285V629"/>
<path stroke="#dea200" d="M111.5 189V605M112.5 189V605M113.5 261V581M114.5 221V581M115.5 221V581M116.5 237V581M117.5 237V613M118.5 237V581M119.5 205V581M120.5 269V581M121.5 253V541M122.5 253V541M123.5 253V541M124.5 253V581M125.5 253V581M126.5 229V589M127.5 261V589M128.5 269V597M129.5 269V597M130.5 245V597M131.5 229V605M132.5 237V605M133.5 269V605M134.5 245V589M135.5 189V549M136.5 197V557M137.5 269V557M138.5 269V557M139.5 269V589M140.5 261V589M141.5 205V589M142.5 261V589M143.5 269V589M144.5 269V589M145.5 269V589M146.5 269V589M147.5 261V613M148.5 261V613M149.5 261V589M150.5 261V613M151.5 261V613M152.5 205V613M153.5 269V597M154.5 269V589M155.5 285V573M156.5 285V573M157.5 285V629M158.5 213V629M159.5 213V581M160.5 245V581M161.5 237V581M162.5 245V581M163.5 237V589M164.5 237V613M165.5 237V581M166.5 237V589M167.5 237V573M168.5 237V597M169.5 237V597M170.5 237V534M171.5 237V565M172.5 237V565M173.5 245V573M174.5 237V581M175.5 237V573M176.5 253V573M177.5 253V573M178.5 253V573M179.5 253V613M180.5 253V605M181.5 253V557M182.5 293V589M183.5 301V589M184.5 261V589M185.5 285V589M186.5 253V621M187.5 253V621M188.5 253V621M189.5 261V573M190.5 261V573M191.5 253V573M192.5 253V573M193.5 213V597M194.5 213V597M195.5 309V597M196.5 277V549M197.5 277V581M198.5 277V581M199.5 277V613M200.5 277V613M201.5 277V613M202.5 277V621M203.5 277V621M204.5 277V621M205.5 229V621M206.5 229V621M207.5 277V557M208.5 277V613M209.5 277V613M210.5 277V549M211.5 277V629M212.5 269V629M213.5 269V597M214.5 221V581M215.5 277V581M216.5 277V573M217.5 269V597M218.5 237V621M219.5 237V597M220.5 277V613M221.5 245V613M222.5 261V613M223.5 261V605M224.5 261V629M225.5 261V629M226.5 213V629M227.5 213V629M228.5 245V613M229.5 245V613M230.5 245V589M231.5 245V597M232.5 189V549M233.5 189V541M234.5 245V541M235.5 261V541M236.5 237V573M237.5 237V589M238.5 237V589M239.5 237V573M240.5 245V573M241.5 253V573M242.5 181V581M243.5 181V613M244.5 181V613M245.5 181V589M246.5 189V589M247.5 205V541M248.5 205V541M249.5 261V605M250.5 261V605M251.5 261V605M252.5 253V605M253.5 253V605M254.5 269V605M255.5 205V581M256.5 189V581M257.5 189V581M258.5 253V581M259.5 253V581M260.5 253V581M261.5 245V581M262.5 253V589M263.5 229V565M264.5 237V565M265.5 237V589M266.5 237V589M267.5 229V565M268.5 229V565M269.5 229V565M270.5 237V573M271.5 237V605M272.5 237V581M273.5 253V581M274.5 253V581M275.5 197V581M276.5 205V581M277.5 205V581M278.5 229V581M279.5 261V581M280.5 205V613M281.5 205V573M282.5 205V573M283.5 205V605M284.5 245V613M285.5 221V589M286.5 221V589M287.5 221V573M288.5 221V573M289.5 221V573M290.5 221V573M291.5 245V573M292.5 253V573M293.5 253V605M294.5 253V605M295.5 253V629M296.5 197V565M297.5 197V557M298.5 197V557M299.5 197V557M300.5 197V621M301.5 205V621M302.5 245V613M303.5 253V597M304.5 253V557M305.5 253V621M306.5 253V621M307.5 253V621M308.5 261V621M309.5 261V621M310.5 261V549M311.5 237V613M312.5 237V613M313.5 237V581M314.5 237V589M315.5 309V589M316.5 293V589M317.5 293V589M318.5 293V581M319.5 293V565M320.5 293V573M321.5 277V605M322.5 213V541M323.5 213V534M324.5 245V534M325.5 293V534M326.5 253V534M327.5 269V549M328.5 261V605M329.5 277V589M330.5 277V589M331.5 261V589M332.5 261V589M333.5 261V589M334.5 261V621M335.5 261V671M336.5 277V663M337.5 261V581M338.5 277V589M339.5 221V589M340.5 221V589M341.5 261V589M342.5 261V597M343.5 245V541M344.5 269V589M345.5 269V565M346.5 269V565M347.5 269V621M348.5 269V621M349.5 269V621M350.5 221V573M351.5 245V613M352.5 237V613M353.5 261V613M354.5 213V629M355.5 213V629M356.5 253V629M357.5 181V629M358.5 237V629M359.5 237V573M360.5 237V573M361.5 237V581M362.5 237V581M363.5 237V581M364.5 205V589M365.5 237V589M366.5 237V589M367.5 253V589M368.5 277V589M369.5 277V589M370.5 277V589M371.5 277V589M372.5 197V613M373.5 197V613M374.5 197V605M375.5 205V605M376.5 197V605M377.5 197V605M378.5 197V605M379.5 197V589M380.5 197V581M381.5 245V581M382.5 245V557M383.5 269V557M384.5 269V589M385.5 269V589M386.5 237V589M387.5 269V549M388.5 269V565M389.5 253V581M390.5 253V565M391.5 253V565M392.5 253V549M393.5 205V549M394.5 205V549M395.5 205V581M396.5 261V557M397.5 261V557M398.5 277V597M399.5 237V597M400.5 285V597M401.5 229V597M402.5 269V597M403.5 205V589M404.5 205V549M405.5 277V597M406.5 277V605M407.5 269V589M408.5 269V589M409.5 149V581M410.5 157V581M411.5 293V573M412.5 293V629M413.5 269V629M414.5 269V629M415.5 269V597M416.5 245V589M417.5 245V589M418.5 245V589M419.5 221V581M420.5 221V557M421.5 221V581M422.5 221V581M423.5 221V581M424.5 221V605M425.5 245V605M426.5 245V597M427.5 245V597M428.5 245V597M429.5 221V597M430.5 229V597M431.5 229V597M432.5 229V597M433.5 229V597M434.5 229V565M435.5 237V589M436.5 237V589M437.5 261V589M438.5 261V589M439.5 245V589M440.5 245V589M441.5 213V589M442.5 213V589M443.5 221V613M444.5 261V589M445.5 261V589M446.5 261V534M447.5 261V565M448.5 205V541M449.5 205V565M450.5 261V557M451.5 261V557M452.5 261V557M453.5 261V629M454.5 261V629M455.5 245V629M456.5 197V629M457.5 285V629M458.5 245V573M459.5 221V573M460.5 253V661M461.5 285V653M462.5 285V541M463.5 221V541M464.5 221V573M465.5 221V613M466.5 213V613M467.5 213V613M468.5 213V613M469.5 213V557M470.5 205V557M471.5 205V597M472.5 205V589M473.5 205V565M474.5 277V565M475.5 285V565M476.5 293V597M477.5 245V597M478.5 245V597M479.5 197V573M480.5 205V557M481.5 205V565M482.5 261V589M483.5 229V589M484.5 229V621M485.5 277V621M486.5 245V621M487.5 237V605M488.5 269V557M489.5 205V557M490.5 261V557M491.5 261V581M492.5 205V671M493.5 205V663M494.5 277V581M495.5 285V581M496.5 301V581M497.5 301V557M498.5 301V557M499.5 221V557M500.5 221V534M501.5 245V589M502.5 245V589M503.5 245V565M504.5 269V573M505.5 277V526M506.5 269V526M507.5 269V589M508.5 269V589M509.5 269V589M510.5 269V589M511.5 213V589M512.5 237V549M513.5 301V549M514.5 285V549M515.5 293V549M516.5 245V597M517.5 245V597M518.5 253V557M519.5 253V557M520.5 253V671M521.5 229V663M522.5 269V534M523.5 269V581M524.5 277V581M525.5 277V581M526.5 277V581M527.5 277V613M528.5 277V629M529.5 237V629M530.5 293V629M531.5 277V629M532.5 309V629M533.5 309V629M534.5 237V629M535.5 245V621M536.5 301V621M537.5 285V621M538.5 285V621M539.5 269V621M540.5 269V549M541.5 269V597M542.5 285V613M543.5 285V613M544.5 316V597M545.5 253V719M546.5 245V711M547.5 245V565M548.5 245V565M549.5 269V605M550.5 277V605M551.5 269V557M552.5 269V557M553.5 269V557M554.5 269V557M555.5 205V549M556.5 285V549M557.5 285V549M558.5 285V565M559.5 237V589M560.5 213V621M561.5 229V621M562.5 261V581M563.5 316V613M564.5 316V565M565.5 205V565M566.5 205V581M567.5 205V581M568.5 205V573M569.5 269V621M570.5 237V557M571.5 293V549M572.5 229V549M573.5 229V621M574.5 253V621M575.5 213V621M576.5 213V621M577.5 301V621M578.5 149V621M579.5 157V597M580.5 237V597M581.5 253V597M582.5 253V597M583.5 253V597M584.5 253V597M585.5 261V605M586.5 165V605M587.5 173V565M588.5 261V605M589.5 261V549M590.5 261V581M591.5 229V581M592.5 285V597M593.5 245V541M594.5 221V541M595.5 285V565M596.5 285V565M597.5 285V565M598.5 285V565M599.5 285V549M600.5 205V565M601.5 261V565M602.5 261V573M603.5 277V573M604.5 245V573M605.5 245V541M606.5 245V541M607.5 245V605M608.5 237V605M609.5 237V549M610.5 237V549M611.5 245V589M612.5 293V589M613.5 293V565M614.5 293V565M615.5 293V541M616.5 293V541M617.5 293V605M618.5 285V581M619.5 285V581M620.5 221V581M621.5 221V581M622.5 221V581M623.5 221V581M624.5 261V597M625.5 261V597M626.5 261V597M627.5 189V597M628.5 205V597M629.5 213V597M630.5 229V597M631.5 269V597M632.5 221V565M633.5 221V565M634.5 261V565M635.5 261V597M636.5 261V597M637.5 269V597M638.5 269V613M639.5 229V613M640.5 189V613M641.5 253V613M642.5 253V613M643.5 253V613M644.5 253V573M645.5 253V573M646.5 261V565M647.5 197V573M648.5 205V621M649.5 237V621M650.5 237V621M651.5 237V621M652.5 237V589M653.5 229V629M654.5 229V629M655.5 229V581M656.5 269V581M657.5 269V581M658.5 269V589M659.5 269V597M660.5 269V637M661.5 277V637M662.5 277V637M663.5 253V621M664.5 221V573M665.5 253V597M666.5 245V605M667.5 221V597M668.5 221V597M669.5 221V573M670.5 221V629M671.5 221V613M672.5 293V573M673.5 213V573M674.5 237V573M675.5 269V565M676.5 269V605M677.5 277V605M678.5 277V605M679.5 253V557M680.5 253V557M681.5 253V621M682.5 253V581M683.5 285V581M684.5 285V565M685.5 229V565M686.5 229V613M687.5 245V573M688.5 253V573M689.5 285V589M690.5 237V589M691.5 237V597M692.5 237V597M693.5 237V597M694.5 229V597M695.5 229V565M696.5 229V565M697.5 229V605M698.5 285V629M699.5 261V629M700.5 261V621M701.5 261V621M702.5 221V589M703.5 221V613M704.5 229V565M705.5 237V565M706.5 221V565M707.5 245V565M708.5 189V565M709.5 189V589M710.5 189V589M711.5 189V621M712.5 253V565M713.5 253V565M714.5 253V597M715.5 253V597M716.5 277V597M717.5 277V613M718.5 237V613M719.5 237V613M720.5 237V613M721.5 237V613M722.5 237V613M723.5 213V613M724.5 237V613M725.5 237V613M726.5 237V597M727.5 277V597M728.5 277V597M729.5 245V637M730.5 245V637M731.5 245V581M732.5 229V581M733.5 229V581M734.5 245V581M735.5 245V581M736.5 245V581M737.5 245V557M738.5 269V597M739.5 253V597M740.5 245V597M741.5 245V597M742.5 277V573M743.5 277V573M744.5 277V573M745.5 253V573M746.5 221V605M747.5 253V629M748.5 253V581M749.5 261V629M750.5 245V629M751.5 245V629M752.5 245V629M753.5 253V629M754.5 253V629M755.5 293V613M756.5 293V589M757.5 293V589M758.5 277V589M759.5 221V541M760.5 221V541M761.5 253V541M762.5 293V549M763.5 293V589M764.5 309V589M765.5 261V589M766.5 261V589M767.5 261V589M768.5 261V573M769.5 261V605M770.5 261V581M771.5 269V589M772.5 269V573M773.5 205V581M774.5 205V581M775.5 285V605M776.5 285V549M777.5 285V621M778.5 245V621M779.5 229V605M780.5 245V605M781.5 293V549M782.5 293V597M783.5 261V597M784.5 261V597M785.5 285V581M786.5 277V573M787.5 245V589M788.5 245V589M789.5 245V589M790.5 301V573M791.5 237V573M792.5 237V573M793.5 237V581M794.5 221V581M795.5 245V621M796.5 245V621M797.5 277V557M798.5 221V621M799.5 253V621M800.5 309V573M801.5 293V573M802.5 293V573M803.5 261V613M804.5 261V613M805.5 261V565M806.5 261V565M807.5 253V573M808.5 253V589M809.5 253V589M810.5 285V549M811.5 285V565M812.5 277V637M813.5 253V621M814.5 253V621M815.5 213V621M816.5 237V629M817.5 229V613M818.5 245V581M819.5 269V637M820.5 277V637M821.5 277V637M822.5 277V637M823.5 293V637M824.5 293V645M825.5 261V645M826.5 245V645M827.5 245V573M828.5 269V573M829.5 269V597M830.5 269V597M831.5 293V597M832.5 293V597M833.5 293V621M834.5 293V597M835.5 293V605M836.5 293V605M837.5 205V605M838.5 197V605M839.5 197V597M840.5 213V597M841.5 213V597M842.5 221V565M843.5 221V637M844.5 221V565M845.5 221V565M846.5 221V589M847.5 221V589M848.5 277V589M849.5 181V589M850.5 181V605M851.5 245V605M852.5 237V613M853.5 237V613M854.5 253V549M855.5 277V549M856.5 237V605M857.5 213V605M858.5 229V605M859.5 229V573M860.5 229V573M861.5 277V613M862.5 293V549M863.5 293V605M864.5 197V605M865.5 197V605M866.5 197V605M867.5 197V549M868.5 213V549M869.5 285V565M870.5 205V565M871.5 197V597M872.5 197V597M873.5 261V597M874.5 261V613M875.5 261V613M876.5 245V621M877.5 237V605M878.5 253V605M879.5 221V581M880.5 221V581M881.5 221V581M882.5 261V581M883.5 261V605M884.5 269V605M885.5 293V597M886.5 293V597M887.5 245V581M888.5 245V629M889.5 197V629M890.5 197V629M891.5 237V605M892.5 237V605M893.5 213V605M894.5 245V605M895.5 245V605M896.5 301V605M897.5 301V605M898.5 269V605M899.5 269V621M900.5 261V589M901.5 261V589M902.5 261V589M903.5 229V589M904.5 261V597M905.5 261V597M906.5 293V695M907.5 293V687M908.5 301V573M909.5 261V573M910.5 261V573M911.5 261V565M912.5 253V565M913.5 253V573M914.5 253V573M915.5 197V573M916.5 197V573M917.5 285V597M918.5 277V597M919.5 277V613M920.5 277V581M921.5 205V597M922.5 269V645M923.5 261V645M924.5 245V645M925.5 316V645M926.5 221V581M927.5 253V581M928.5 253V581M929.5 237V589M930.5 237V589M931.5 237V661M932.5 301V653M933.5 301V637M934.5 301V637M935.5 301V581M936.5 229V581M937.5 237V581M938.5 197V581M939.5 261V581M940.5 221V581M941.5 229V581M942.5 229V637M943.5 261V605M944.5 261V557M945.5 301V557"/>
</g>
<g stroke="#000" stroke-width="2.5" fill="none">
<line x1="111.15" y1="93.25" x2="111.15" y2="773.05"/><line x1="109.90" y1="771.8" x2="946.80" y2="771.8" stroke-width="3"/><line x1="104.3" y1="771.44" x2="111.15" y2="771.44"/><line x1="97.8" y1="731.62" x2="111.15" y2="731.62"/><line x1="104.3" y1="691.80" x2="111.15" y2="691.80"/><line x1="97.8" y1="651.98" x2="111.15" y2="651.98"/><line x1="104.3" y1="612.16" x2="111.15" y2="612.16"/><line x1="97.8" y1="572.34" x2="111.15" y2="572.34"/><line x1="104.3" y1="532.52" x2="111.15" y2="532.52"/><line x1="97.8" y1="492.70" x2="111.15" y2="492.70"/><line x1="104.3" y1="452.88" x2="111.15" y2="452.88"/><line x1="97.8" y1="413.06" x2="111.15" y2="413.06"/><line x1="104.3" y1="373.24" x2="111.15" y2="373.24"/><line x1="97.8" y1="333.42" x2="111.15" y2="333.42"/><line x1="104.3" y1="293.60" x2="111.15" y2="293.60"/><line x1="97.8" y1="253.78" x2="111.15" y2="253.78"/><line x1="104.3" y1="213.96" x2="111.15" y2="213.96"/><line x1="97.8" y1="174.14" x2="111.15" y2="174.14"/><line x1="104.3" y1="134.32" x2="111.15" y2="134.32"/><line x1="97.8" y1="94.50" x2="111.15" y2="94.50"/><line x1="111.00" y1="771.8" x2="111.00" y2="786.7"/><line x1="215.31" y1="771.8" x2="215.31" y2="779"/><line x1="319.62" y1="771.8" x2="319.62" y2="786.7"/><line x1="423.94" y1="771.8" x2="423.94" y2="779"/><line x1="528.25" y1="771.8" x2="528.25" y2="786.7"/><line x1="632.56" y1="771.8" x2="632.56" y2="779"/><line x1="736.88" y1="771.8" x2="736.88" y2="786.7"/><line x1="841.19" y1="771.8" x2="841.19" y2="779"/><line x1="945.50" y1="771.8" x2="945.50" y2="786.7"/>
</g>
<g font-size="26">
<text x="0" y="0" text-anchor="end" transform="translate(92.8 740.12)">80</text><text x="0" y="0" text-anchor="end" transform="translate(92.8 660.33)">90</text><text x="0" y="0" text-anchor="end" transform="translate(92.8 580.54)">100</text><text x="0" y="0" text-anchor="end" transform="translate(92.8 500.75)">110</text><text x="0" y="0" text-anchor="end" transform="translate(92.8 420.96)">120</text><text x="0" y="0" text-anchor="end" transform="translate(92.8 341.17)">130</text><text x="0" y="0" text-anchor="end" transform="translate(92.8 261.38)">140</text><text x="0" y="0" text-anchor="end" transform="translate(92.8 181.59)">150</text><text x="0" y="0" text-anchor="end" transform="translate(92.8 101.80)">160</text><text x="0" y="0" text-anchor="middle" transform="translate(111.60 815)">0</text><text x="0" y="0" text-anchor="middle" transform="translate(320.23 815)">50</text><text x="0" y="0" text-anchor="middle" transform="translate(528.85 815)">100</text><text x="0" y="0" text-anchor="middle" transform="translate(737.48 815)">150</text><text x="0" y="0" text-anchor="middle" transform="translate(946.10 815)">200</text>
</g>
<text x="0" y="0" font-size="32" text-anchor="middle" transform="translate(528.6 870.5) scale(0.952 1)">Time (ns)</text>
<text x="0" y="0" font-size="32.9" text-anchor="middle" transform="translate(29 455.6) rotate(-90)">Number of hydrogen bonds</text>
<line x1="642.5" y1="14.40" x2="718.2" y2="14.40" stroke="#00ffff" stroke-width="4" stroke-linecap="round"/><text x="729" y="25.60" font-size="32.2">Triclosan-Fabl</text><line x1="642.5" y1="55.67" x2="718.2" y2="55.67" stroke="#d8007c" stroke-width="4" stroke-linecap="round"/><text x="729" y="66.70" font-size="32.2">21272541-Fabl</text><line x1="642.5" y1="96.94" x2="718.2" y2="96.94" stroke="#00007a" stroke-width="4" stroke-linecap="round"/><text x="729" y="107.80" font-size="32.2">89795992-Fabl</text><line x1="642.5" y1="138.21" x2="718.2" y2="138.21" stroke="#dea200" stroke-width="4" stroke-linecap="round"/><text x="729" y="148.90" font-size="32.2">89792657-Fabl</text>
</svg>
</body></html>
